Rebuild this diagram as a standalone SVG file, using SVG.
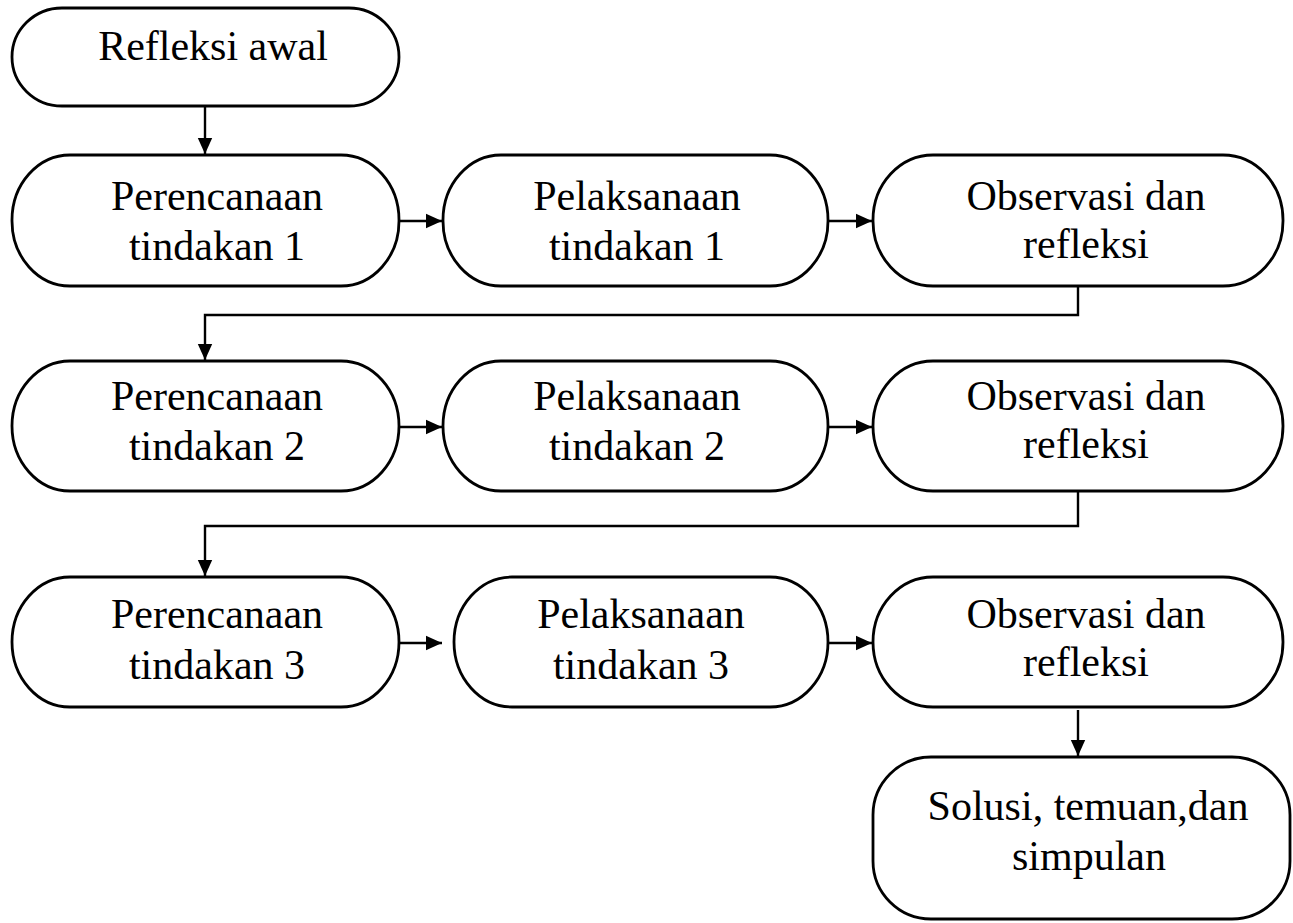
<svg xmlns="http://www.w3.org/2000/svg" width="1293" height="923" viewBox="0 0 1293 923">
<defs>
<style>
.n{fill:#fff;stroke:#000;stroke-width:2.8}
.t{font-family:"Liberation Serif","Times New Roman",serif;font-size:42px;fill:#000;text-anchor:middle}
.c{fill:none;stroke:#000;stroke-width:2.4}
</style>
<marker id="ah" viewBox="0 0 10 10" refX="10" refY="5" markerWidth="16" markerHeight="16" markerUnits="userSpaceOnUse" orient="auto">
<path d="M0,0.5 L10,5 L0,9.5 Z" fill="#000"/>
</marker>
</defs>
<g id="connectors">
<line class="c" x1="205" y1="106" x2="205" y2="154" marker-end="url(#ah)"/>
<line class="c" x1="399" y1="221" x2="442" y2="221" marker-end="url(#ah)"/>
<line class="c" x1="828" y1="221" x2="872" y2="221" marker-end="url(#ah)"/>
<polyline class="c" points="1078,286 1078,315 205,315 205,360" marker-end="url(#ah)"/>
<line class="c" x1="399" y1="427" x2="442" y2="427" marker-end="url(#ah)"/>
<line class="c" x1="828" y1="427" x2="872" y2="427" marker-end="url(#ah)"/>
<polyline class="c" points="1078,491 1078,526 205,526 205,576" marker-end="url(#ah)"/>
<line class="c" x1="399" y1="643" x2="442" y2="643" marker-end="url(#ah)"/>
<line class="c" x1="828" y1="643" x2="872" y2="643" marker-end="url(#ah)"/>
<line class="c" x1="1078" y1="710" x2="1078" y2="756" marker-end="url(#ah)"/>
</g>
<g id="refleksi-awal">
<rect class="n" x="12" y="8" width="387" height="98" rx="50" ry="49"/>
<text class="t" x="213" y="60">Refleksi awal</text>
</g>
<g id="perencanaan-1">
<rect class="n" x="12" y="155" width="387" height="131" rx="58" ry="65"/>
<text class="t" x="217" y="210">Perencanaan</text>
<text class="t" x="217" y="260">tindakan 1</text>
</g>
<g id="pelaksanaan-1">
<rect class="n" x="443" y="155" width="385" height="131" rx="58" ry="65"/>
<text class="t" x="637" y="210">Pelaksanaan</text>
<text class="t" x="637" y="260">tindakan 1</text>
</g>
<g id="observasi-1">
<rect class="n" x="873" y="155" width="410" height="131" rx="60" ry="65"/>
<text class="t" x="1086" y="210">Observasi dan</text>
<text class="t" x="1086" y="258">refleksi</text>
</g>
<g id="perencanaan-2">
<rect class="n" x="12" y="361" width="387" height="130" rx="58" ry="65"/>
<text class="t" x="217" y="410">Perencanaan</text>
<text class="t" x="217" y="460">tindakan 2</text>
</g>
<g id="pelaksanaan-2">
<rect class="n" x="443" y="361" width="385" height="130" rx="58" ry="65"/>
<text class="t" x="637" y="410">Pelaksanaan</text>
<text class="t" x="637" y="460">tindakan 2</text>
</g>
<g id="observasi-2">
<rect class="n" x="873" y="361" width="410" height="130" rx="60" ry="65"/>
<text class="t" x="1086" y="410">Observasi dan</text>
<text class="t" x="1086" y="458">refleksi</text>
</g>
<g id="perencanaan-3">
<rect class="n" x="12" y="577" width="387" height="130" rx="58" ry="65"/>
<text class="t" x="217" y="628">Perencanaan</text>
<text class="t" x="217" y="679">tindakan 3</text>
</g>
<g id="pelaksanaan-3">
<rect class="n" x="454" y="577" width="374" height="130" rx="58" ry="65"/>
<text class="t" x="641" y="628">Pelaksanaan</text>
<text class="t" x="641" y="679">tindakan 3</text>
</g>
<g id="observasi-3">
<rect class="n" x="873" y="577" width="410" height="130" rx="60" ry="65"/>
<text class="t" x="1086" y="628">Observasi dan</text>
<text class="t" x="1086" y="676">refleksi</text>
</g>
<g id="solusi">
<rect class="n" x="873" y="757" width="417" height="162" rx="58" ry="58"/>
<text class="t" x="1088" y="820">Solusi, temuan,dan</text>
<text class="t" x="1089" y="870">simpulan</text>
</g>
</svg>
